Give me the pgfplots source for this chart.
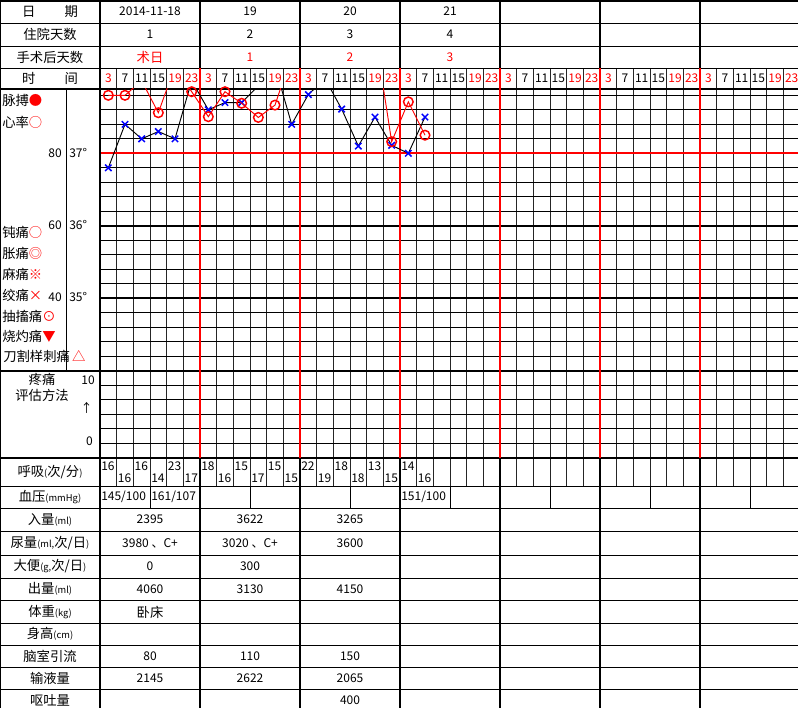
\documentclass[border=0pt]{standalone}
\usepackage{pgfplots}
\pgfplotsset{compat=1.18}
\usepackage{fontspec}
\setmainfont{Noto Sans CJK SC}
\newcommand\zh{\fontsize{10}{12}\selectfont}
\newcommand\nm{\fontsize{9}{11}\selectfont}
\newcommand\sm{\fontsize{7}{8}\selectfont}
\begin{document}
\begin{tikzpicture}
\begin{scope}[x=0.75pt,y=-0.75pt]
\useasboundingbox (0,0) rectangle (798,708);
\fill[white] (0,0) rectangle (798,708);
% sub-column vertical lines
\foreach \j in {1,...,41}{
  \pgfmathsetmacro\xx{100+\j*100/6}
  \draw[black!85,line width=0.75pt] (\xx,68) -- (\xx,486);
}
\foreach \xx in {150,250,...,750} \draw[line width=0.75pt] (\xx,486) -- (\xx,508);
% temperature grid
\foreach \k in {-4,...,14}{
  \pgfmathsetmacro\yy{153.3+14.5*\k}
  \draw[line width=0.75pt] (100,\yy) -- (798,\yy);
}
\foreach \yy in {225.8,298.3} \draw[line width=1.4pt] (100,\yy) -- (798,\yy);
\foreach \yy in {385.3,399.8,414.3,428.8,443.3} \draw[line width=0.75pt] (100,\yy) -- (798,\yy);
\foreach \yy in {23,46,68,486,508,531,555,578,600.5,623,645,667,689} \draw[line width=0.75pt] (0,\yy) -- (798,\yy);
\foreach \yy in {0.75,89,370.8,457.8} \draw[line width=1.5pt] (0,\yy) -- (798,\yy);
\draw[red,line width=1.5pt] (100,153.3) -- (798,153.3);
\foreach \xx in {200,300,...,700}{
  \draw[line width=1.5pt] (\xx,0) -- (\xx,68);
  \draw[red,line width=1.5pt] (\xx,68) -- (\xx,457.8);
  \draw[line width=1.2pt] (\xx,457.8) -- (\xx,708);
}
\draw[line width=1.5pt] (100,0) -- (100,708);
\draw[line width=0.75pt] (0.4,0) -- (0.4,708);
\draw[line width=0.75pt] (66,89) -- (66,370.8);
% header texts
\node[font=\zh] at (50,11.5) {日\hspace{2.2em}期};
\node[font=\zh] at (50,34.5) {住院天数};
\node[font=\zh] at (50,57) {手术后天数};
\node[font=\zh] at (50,78.5) {时\hspace{2.2em}间};
\node[font=\nm] at (150,11.5) {2014-11-18};
\node[font=\nm] at (250,11.5) {19};
\node[font=\nm] at (350,11.5) {20};
\node[font=\nm] at (450,11.5) {21};
\node[font=\nm] at (150,34.5) {1};
\node[font=\nm] at (250,34.5) {2};
\node[font=\nm] at (350,34.5) {3};
\node[font=\nm] at (450,34.5) {4};
\node[font=\zh,text=red] at (150,57) {术日};
\node[font=\nm,text=red] at (250,57) {1};
\node[font=\nm,text=red] at (350,57) {2};
\node[font=\nm,text=red] at (450,57) {3};
\foreach \d in {0,...,6}{
  \foreach \t/\c [count=\j from 0] in {3/red,7/black,11/black,15/black,19/red,23/red}{
    \pgfmathsetmacro\xx{100+\d*100+(\j+0.5)*100/6}
    \node[font=\nm,text=\c,inner sep=0] at (\xx,78.5) {\t};
  }
}
% left labels temperature section
\node[font=\zh,anchor=west,inner sep=0] at (2,100) {脉搏\textcolor{red}{●}};
\node[font=\zh,anchor=west,inner sep=0] at (2,122) {心率\textcolor{red}{○}};
\node[font=\nm,anchor=east,inner sep=0] at (62,153) {80};
\node[font=\nm,anchor=east,inner sep=0] at (62,225) {60};
\node[font=\nm,anchor=east,inner sep=0] at (62,297.3) {40};
\node[font=\nm,anchor=west,inner sep=0] at (69,153) {37°};
\node[font=\nm,anchor=west,inner sep=0] at (69,225) {36°};
\node[font=\nm,anchor=west,inner sep=0] at (69,297.3) {35°};
\node[font=\zh,anchor=west,inner sep=0] at (2,232.3) {钝痛\textcolor{red}{○}};
\node[font=\zh,anchor=west,inner sep=0] at (2,253.3) {胀痛\textcolor{red}{◎}};
\node[font=\zh,anchor=west,inner sep=0] at (2,274.3) {麻痛\textcolor{red}{※}};
\node[font=\zh,anchor=west,inner sep=0] at (2,295) {绞痛\textcolor{red}{×}};
\node[font=\zh,anchor=west,inner sep=0] at (2,316) {抽搐痛\textcolor{red}{⊙}};
\node[font=\zh,anchor=west,inner sep=0] at (2,336.7) {烧灼痛\textcolor{red}{▼}};
\node[font=\zh,anchor=west,inner sep=0] at (3,356.7) {刀割样刺痛\,\textcolor{red}{△}};
% pain section
\node[font=\zh] at (42,379) {疼痛};
\node[font=\zh] at (42,395) {评估方法};
\node[font=\nm,anchor=east,inner sep=0] at (95,380) {10};
\node[font=\nm,anchor=east,inner sep=0] at (93,408) {↑};
\node[font=\nm,anchor=east,inner sep=0] at (93,441) {0};
% respiration
\node[font=\zh] at (50,472) {呼吸{\sm(}次/分{\sm)}};
\foreach \v [count=\j from 0] in {16,16,16,14,23,17,18,16,15,17,15,15,22,19,18,18,13,15,14,16}{
  \pgfmathsetmacro\xx{100+\j*100/6+1}
  \pgfmathsetmacro\yy{isodd(\j)?478:466.5}
  \node[font=\nm,anchor=west,inner sep=0] at (\xx,\yy) {\v};
}
\node[font=\zh] at (50,497) {血压{\sm(mmHg)}};
\node[font=\nm,anchor=west,inner sep=0] at (101,497) {145/100};
\node[font=\nm,anchor=west,inner sep=0] at (151,497) {161/107};
\node[font=\nm,anchor=west,inner sep=0] at (401,497) {151/100};
% lower table
\node[font=\zh] at (50,519.5) {入量{\sm(ml)}};
\node[font=\zh] at (50,543) {尿量{\sm(ml,}次/日{\sm)}};
\node[font=\zh] at (50,566.5) {大便{\sm(g,}次/日{\sm)}};
\node[font=\zh] at (50,589) {出量{\sm(ml)}};
\node[font=\zh] at (50,612) {体重{\sm(kg)}};
\node[font=\zh] at (50,634) {身高{\sm(cm)}};
\node[font=\zh] at (50,656) {脑室引流};
\node[font=\zh] at (50,678) {输液量};
\node[font=\zh] at (50,700) {呕吐量};
\node[font=\nm] at (150,519.5) {2395};
\node[font=\nm] at (250,519.5) {3622};
\node[font=\nm] at (350,519.5) {3265};
\node[font=\nm] at (150,543) {3980 、C+};
\node[font=\nm] at (250,543) {3020 、C+};
\node[font=\nm] at (350,543) {3600};
\node[font=\nm] at (150,566.5) {0};
\node[font=\nm] at (250,566.5) {300};
\node[font=\nm] at (150,589) {4060};
\node[font=\nm] at (250,589) {3130};
\node[font=\nm] at (350,589) {4150};
\node[font=\zh] at (150,612) {卧床};
\node[font=\nm] at (150,656) {80};
\node[font=\nm] at (250,656) {110};
\node[font=\nm] at (350,656) {150};
\node[font=\nm] at (150,678) {2145};
\node[font=\nm] at (250,678) {2622};
\node[font=\nm] at (350,678) {2065};
\node[font=\nm] at (350,700) {400};
\coordinate (SW) at (100,370.8);
\end{scope}
\begin{axis}[at={(SW)},anchor=south west,scale only axis,width=523.5pt,height=212.0625pt,
  xmin=0,xmax=41.88,ymin=34,ymax=37.9,axis lines=none,ticks=none,clip=true]
\addplot[black,line width=0.7pt,mark=x,mark size=3.4pt,mark options={blue,line width=1.1pt}] coordinates {
(0.5,36.8)(1.5,37.4)(2.5,37.2)(3.5,37.3)(4.5,37.2)(5.5,38.0)(6.5,37.6)(7.5,37.7)(8.5,37.7)(9.5,37.93)
(10.5,38.2)(11.5,37.4)(12.5,37.81)(13.5,38.03)(14.5,37.61)(15.5,37.1)(16.5,37.5)(17.5,37.11)(18.5,37.0)(19.5,37.5)};
\end{axis}
\begin{axis}[at={(SW)},anchor=south west,scale only axis,width=523.5pt,height=212.0625pt,
  xmin=0,xmax=41.88,ymin=20,ymax=98,axis lines=none,ticks=none,clip=true]
\addplot[red,line width=0.7pt,mark=o,mark size=3.6pt,mark options={red,line width=1.1pt}] coordinates {
(0.5,96)(1.5,96)(2.5,100)(3.5,91.2)(4.5,104)(5.5,97)(6.5,90.1)(7.5,97)(8.5,93.8)(9.5,89.9)
(10.5,93.3)(11.5,107)(12.5,110)(13.5,110)(14.5,110)(15.5,110)(16.5,113)(17.5,83.2)(18.5,94.2)(19.5,85)};
\end{axis}
\end{tikzpicture}
\end{document}
